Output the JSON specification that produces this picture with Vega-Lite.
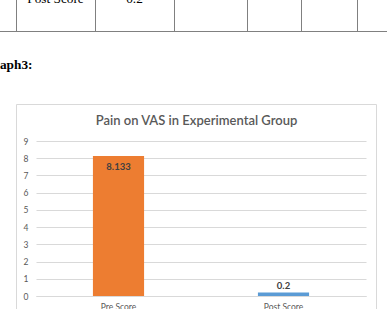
{
  "$schema": "https://vega.github.io/schema/vega-lite/v6.json",
  "width": 330,
  "height": 155,
  "autosize": {"type": "none"},
  "padding": {"left": 36, "top": 141, "right": 21, "bottom": 13},
  "background": "white",
  "config": {"view": {"stroke": null}, "font": "Lato"},
  "resolve": {
    "scale": {"x": "independent", "y": "independent"},
    "axis": {"x": "independent", "y": "independent"}
  },
  "layer": [
    {
      "data": {"values": [{}]},
      "layer": [
        {
          "mark": {"type": "rule", "color": "#808080", "strokeWidth": 1},
          "encoding": {
            "x": {"datum": 0, "type": "quantitative", "scale": {"domain": [0, 387], "range": [-36, 351], "nice": false, "zero": false}, "axis": null},
            "x2": {"datum": 387},
            "y": {"datum": 31.5, "type": "quantitative", "scale": {"domain": [0, 309], "range": [-141, 168], "nice": false, "zero": false}, "axis": null}
          }
        },
        {"mark": {"type": "rule", "color": "#808080"}, "encoding": {"x": {"datum": 16.5, "type": "quantitative"}, "y": {"datum": -5, "type": "quantitative"}, "y2": {"datum": 31}}},
        {"mark": {"type": "rule", "color": "#808080"}, "encoding": {"x": {"datum": 95.5, "type": "quantitative"}, "y": {"datum": -5, "type": "quantitative"}, "y2": {"datum": 31}}},
        {"mark": {"type": "rule", "color": "#808080"}, "encoding": {"x": {"datum": 174.5, "type": "quantitative"}, "y": {"datum": -5, "type": "quantitative"}, "y2": {"datum": 31}}},
        {"mark": {"type": "rule", "color": "#808080"}, "encoding": {"x": {"datum": 247.5, "type": "quantitative"}, "y": {"datum": -5, "type": "quantitative"}, "y2": {"datum": 31}}},
        {"mark": {"type": "rule", "color": "#808080"}, "encoding": {"x": {"datum": 301.5, "type": "quantitative"}, "y": {"datum": -5, "type": "quantitative"}, "y2": {"datum": 31}}},
        {"mark": {"type": "rule", "color": "#808080"}, "encoding": {"x": {"datum": 357.5, "type": "quantitative"}, "y": {"datum": -5, "type": "quantitative"}, "y2": {"datum": 31}}},
        {
          "mark": {"type": "text", "font": "Liberation Serif", "fontSize": 13.3, "color": "black", "align": "center", "baseline": "alphabetic"},
          "encoding": {"x": {"datum": 55.5, "type": "quantitative"}, "y": {"datum": 3, "type": "quantitative"}, "text": {"value": "Post Score"}}
        },
        {
          "mark": {"type": "text", "font": "Liberation Serif", "fontSize": 13.3, "color": "black", "align": "center", "baseline": "alphabetic"},
          "encoding": {"x": {"datum": 134.5, "type": "quantitative"}, "y": {"datum": 3, "type": "quantitative"}, "text": {"value": "0.2"}}
        },
        {
          "mark": {"type": "text", "font": "Liberation Serif", "fontSize": 13.3, "fontWeight": "bold", "color": "black", "align": "left", "baseline": "alphabetic"},
          "encoding": {"x": {"datum": -16.3, "type": "quantitative"}, "y": {"datum": 69, "type": "quantitative"}, "text": {"value": "Graph3:"}}
        },
        {
          "mark": {"type": "rect", "fill": null, "stroke": "#d9d9d9", "strokeWidth": 1},
          "encoding": {"x": {"datum": 16.5, "type": "quantitative"}, "x2": {"datum": 376.5}, "y": {"datum": 104.5, "type": "quantitative"}, "y2": {"datum": 330}}
        },
        {
          "mark": {"type": "text", "font": "Lato", "fontSize": 13, "fontWeight": 600, "color": "#595959", "align": "center", "baseline": "middle"},
          "encoding": {"x": {"datum": 196.5, "type": "quantitative"}, "y": {"datum": 121, "type": "quantitative"}, "text": {"value": "Pain on VAS in Experimental Group"}}
        }
      ]
    },
    {
      "data": {
        "values": [
          {"score": "Pre Score", "vas": 8.133},
          {"score": "Post Score", "vas": 0.2}
        ]
      },
      "encoding": {
        "x": {
          "field": "score",
          "type": "nominal",
          "sort": null,
          "scale": {"paddingInner": 0.69, "paddingOuter": 0.345},
          "axis": {
            "orient": "bottom",
            "title": null,
            "labelAngle": 0,
            "ticks": false,
            "domainColor": "#d9d9d9",
            "labelPadding": 6,
            "labelColor": "#595959",
            "labelFont": "Lato",
            "labelFontSize": 8.5
          }
        },
        "y": {
          "field": "vas",
          "type": "quantitative",
          "scale": {"domain": [0, 9], "nice": false},
          "axis": {
            "orient": "left",
            "title": null,
            "values": [0, 1, 2, 3, 4, 5, 6, 7, 8, 9],
            "grid": true,
            "gridColor": "#d9d9d9",
            "domain": false,
            "ticks": false,
            "labelPadding": 8,
            "labelColor": "#595959",
            "labelFont": "Lato",
            "labelFontSize": 8.5
          }
        }
      },
      "layer": [
        {
          "mark": {"type": "bar"},
          "encoding": {
            "color": {
              "field": "score",
              "type": "nominal",
              "scale": {"domain": ["Pre Score", "Post Score"], "range": ["#ed7d31", "#5b9bd5"]},
              "legend": null
            }
          }
        },
        {
          "transform": [{"filter": "datum.vas > 1"}],
          "mark": {"type": "text", "baseline": "middle", "dy": 11, "font": "Lato", "fontSize": 9.5, "fontWeight": "bold", "color": "#404040"},
          "encoding": {"text": {"field": "vas", "type": "quantitative", "format": ".3~f"}}
        },
        {
          "transform": [{"filter": "datum.vas <= 1"}],
          "mark": {"type": "text", "baseline": "middle", "dy": -7, "font": "Lato", "fontSize": 9.5, "fontWeight": "bold", "color": "#404040"},
          "encoding": {"text": {"field": "vas", "type": "quantitative", "format": ".3~f"}}
        }
      ]
    }
  ]
}
